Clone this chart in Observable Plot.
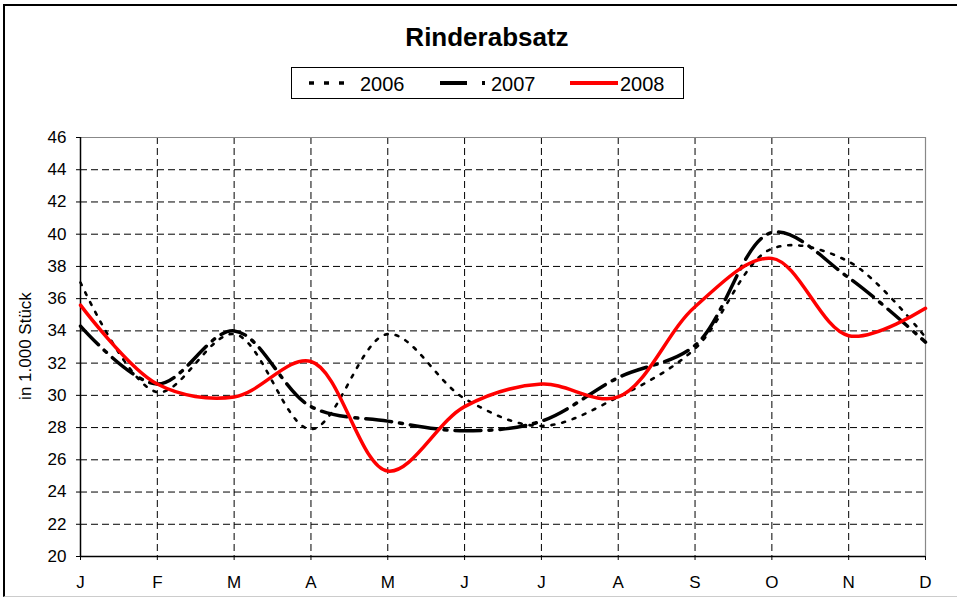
<!DOCTYPE html>
<html><head><meta charset="utf-8">
<script src="https://cdn.jsdelivr.net/npm/d3@7"></script>
<script src="https://cdn.jsdelivr.net/npm/@observablehq/plot@0.6"></script>
<style>
body{margin:0;background:#fff;font-family:"Liberation Sans",Arial,sans-serif;}
#wrap{position:relative;width:957px;height:599px;overflow:hidden;background:#fff;}
#border{position:absolute;left:3px;top:4px;width:970px;height:590px;border-left:2px solid #000;border-top:2px solid #000;border-bottom:1px solid #ccc;}
#title{position:absolute;left:0;width:974px;top:22px;text-align:center;font-weight:bold;font-size:26px;line-height:30px;}
#legend{position:absolute;left:291px;top:67px;}
#ylab{position:absolute;left:26px;top:346px;transform:translate(-50%,-50%) rotate(-90deg);font-size:17px;white-space:nowrap;}
#chart{position:absolute;left:0;top:110px;}
</style>
</head><body>
<div id="wrap">
  <div id="border"></div>
  <div id="title">Rinderabsatz</div>
  <div id="legend"></div>
  <div id="ylab">in 1.000 Stück</div>
  <div id="chart"></div>
</div>
<script>
const months = ["J","F","M","A","M","J","J","A","S","O","N","D"];
const yTicks = [20,22,24,26,28,30,32,34,36,38,40,42,44,46];
const seriesNames = ["2006","2007","2008"];
const v2006 = [37.0, 30.2, 33.8, 27.9, 33.8, 29.8, 28.1, 29.9, 32.9, 39.1, 38.3, 33.6];
const v2007 = [34.3, 30.7, 34.0, 29.3, 28.4, 27.8, 28.4, 31.1, 33.1, 40.1, 37.3, 33.3];
const v2008 = [35.6, 30.7, 29.9, 32.1, 25.3, 29.3, 30.7, 29.9, 35.5, 38.5, 33.7, 35.4];

const toRows = vals => vals.map((v, i) => ({i, v}));
const idx = months.map((m, i) => i);

const chart = Plot.plot({
  width: 957, height: 489,
  marginLeft: 80, marginRight: 32, marginTop: 27, marginBottom: 43,
  style: {fontFamily: "'Liberation Sans', Arial, sans-serif", fontSize: "17px", background: "transparent", color: "#000", overflow: "visible"},
  x: {type: "linear", domain: [0, 11], ticks: idx, tickFormat: i => months[i], tickSize: 4, tickPadding: 15, label: null},
  y: {domain: [20, 46], ticks: yTicks, tickSize: 4, tickPadding: 10, label: null},
  marks: [
    Plot.ruleY(yTicks.slice(1, -1), {stroke: "#000", strokeWidth: 1, strokeDasharray: "7,4"}),
    Plot.ruleX(idx.slice(1, -1), {stroke: "#000", strokeWidth: 1, strokeDasharray: "7,4"}),
    Plot.ruleY([46], {stroke: "#888", strokeWidth: 1.2}),
    Plot.ruleX([11], {stroke: "#888", strokeWidth: 1.2}),
    Plot.ruleY([20], {stroke: "#000", strokeWidth: 1.5}),
    Plot.ruleX([0], {stroke: "#000", strokeWidth: 1.5}),
    Plot.line(toRows(v2006), {x: "i", y: "v", curve: "catmull-rom", stroke: "#000", strokeWidth: 2.6, strokeDasharray: "3,8"}),
    Plot.line(toRows(v2007), {x: "i", y: "v", curve: "catmull-rom", stroke: "#000", strokeWidth: 3.5, strokeDasharray: "26,8,3,8"}),
    Plot.line(toRows(v2008), {x: "i", y: "v", curve: "catmull-rom", stroke: "#ff0000", strokeWidth: 3.5})
  ]
});
document.getElementById("chart").appendChild(chart);

// legend
const lg = d3.select("#legend").append("svg").attr("width", 395).attr("height", 34)
  .style("font-family", "'Liberation Sans', Arial, sans-serif");
lg.append("rect").attr("x", 0.5).attr("y", 0.5).attr("width", 392).attr("height", 31)
  .attr("fill", "#fff").attr("stroke", "#000");
const items = [
  {x1: 18, x2: 56, tx: 69, stroke: "#000", w: 3.5, dash: "5,10"},
  {x1: 149, x2: 195, tx: 200, stroke: "#000", w: 4, dash: "27,15,3,20"},
  {x1: 279, x2: 327, tx: 329, stroke: "#ff0000", w: 4, dash: null}
];
items.forEach((it, k) => {
  const l = lg.append("line").attr("x1", it.x1).attr("x2", it.x2).attr("y1", 16).attr("y2", 16)
    .attr("stroke", it.stroke).attr("stroke-width", it.w);
  if (it.dash) l.attr("stroke-dasharray", it.dash);
  lg.append("text").attr("x", it.tx).attr("y", 24).attr("font-size", 20).text(seriesNames[k]);
});
</script>
</body></html>
